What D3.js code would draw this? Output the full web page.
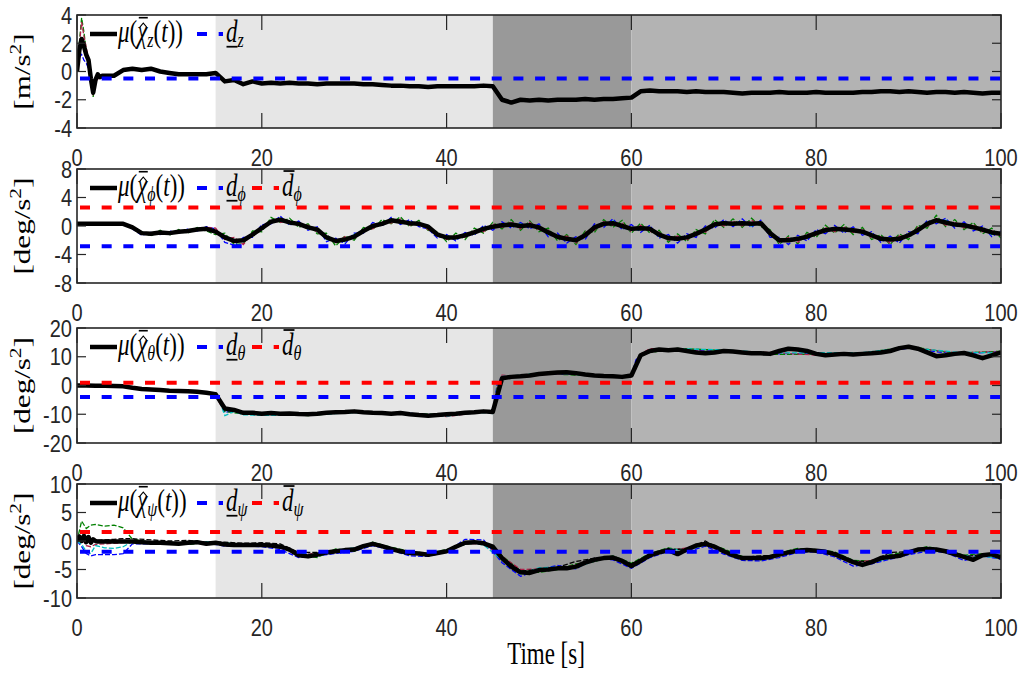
<!DOCTYPE html>
<html>
<head>
<meta charset="utf-8">
<script src="https://cdnjs.cloudflare.com/ajax/libs/d3/7.8.5/d3.min.js"></script>
<style>
    body { margin: 0; background: #fff; }
    .tickText { font-family: "Liberation Sans", Arial, sans-serif; font-size: 20px; fill: #262626; }
    .tex { font-family: "Liberation Serif", "DejaVu Serif", serif; fill: #000; }
</style>
</head>
<body>
<div id="chart"></div>
<script>
// ---------- time grids ----------
var tFine = [0, 0.25, 0.5, 0.75, 1, 1.25, 1.5, 1.75, 2, 2.25, 2.5, 2.75, 3].concat(d3.range(4, 101));
var tSec = d3.range(0, 101);
var tRunZ = [0, 0.25, 0.5, 0.75, 1, 1.25, 1.5, 1.75, 2, 2.5, 3, 4];
var tRunTheta = [0, 5, 10, 14, 15, 15.5, 16, 17, 18, 20, 25, 30, 35, 40, 44, 45, 45.5, 46, 48, 50,
    55, 60, 60.5, 61, 62, 65, 70, 75, 80, 85, 90, 95, 100];
var tRunPsi = [0, 0.5, 1, 1.5, 2, 3, 4, 5, 6].concat(d3.range(8, 101, 2));

// flight phases (s)
var phaseBreaks = [0, 15, 45, 60, 100];
var xTicks = [0, 20, 40, 60, 80, 100];

// ---------- z channel ----------
var yTicksZ = [-4, -2, 0, 2, 4];
var dLowZ = -0.5;
var meanZ = [0, 1.5, 2.3, 1.8, 1.2, 0.8, -0.5, -1.5, -0.6, -0.2, -0.4, -0.3, -0.3,
    -0.3, 0.1, 0.2, 0.1, 0.2, 0.0, -0.1, -0.2, -0.2, -0.2,
    -0.2, -0.1, -0.7, -0.6, -0.9, -0.7, -0.85, -0.8, -0.85, -0.8,
    -0.85, -0.85, -0.9, -0.85, -0.85, -0.85, -0.85, -0.9, -0.9, -0.95,
    -1.0, -1.0, -1.05, -1.05, -1.1, -1.05, -1.05, -1.05, -1.05, -1.05,
    -1.0, -1.05, -2.0, -2.2, -2.0, -2.05, -2.0, -2.05, -2.0, -2.0,
    -2.0, -1.95, -2.0, -1.95, -1.95, -1.9, -1.85, -1.4, -1.35, -1.4,
    -1.4, -1.4, -1.45, -1.4, -1.45, -1.45, -1.45, -1.5, -1.55, -1.5,
    -1.5, -1.5, -1.45, -1.5, -1.5, -1.5, -1.45, -1.5, -1.5, -1.5,
    -1.5, -1.45, -1.45, -1.4, -1.4, -1.45, -1.4, -1.45, -1.5, -1.45,
    -1.45, -1.5, -1.45, -1.5, -1.55, -1.5, -1.5];
var runZBlue = [0, 1.0, 1.2, 0.8, 0.6, 0.2, -0.5, -1.2, -0.5, -0.4, -0.3, -0.3];
var runZGreen = [0, 2.0, 3.8, 2.8, 1.5, 0.5, -1.0, -1.8, -0.4, -0.2, -0.3, -0.3];
var runZRed = [0, 1.8, 3.5, 2.5, 1.7, 0.8, -0.7, -1.7, -0.8, -0.3, -0.3, -0.3];
var runZCyan = [0, 1.3, 2.0, 1.5, 1.0, 0.5, -0.8, -1.4, -0.6, -0.3, -0.3, -0.3];

// ---------- phi channel ----------
var yTicksPhi = [-8, -4, 0, 4, 8];
var dLowPhi = -2.85;
var dHighPhi = 2.6;
var meanPhi = [0.3, 0.3, 0.3, 0.3, 0.3, 0.3, -0.2, -1.0, -1.1, -0.9,
    -1.0, -0.8, -0.7, -0.5, -0.4, -0.8, -1.6, -2.1, -2.0, -1.2,
    -0.3, 0.6, 0.9, 0.5, 0.3, -0.2, -0.5, -1.6, -2.1, -1.9,
    -1.5, -0.7, 0.0, 0.3, 0.8, 0.6, 0.4, 0.3, -0.1, -1.2,
    -1.6, -1.6, -1.3, -0.9, -0.4, -0.1, 0.1, 0.2, 0.0, 0.1,
    -0.2, -0.9, -1.5, -1.8, -2.0, -1.3, -0.2, 0.3, 0.4, 0.0,
    -0.4, -0.3, -0.4, -1.2, -1.7, -1.8, -1.6, -1.1, -0.5, 0.2,
    0.4, 0.3, 0.4, 0.3, 0.4, -1.0, -2.0, -2.0, -1.8, -1.5,
    -1.0, -0.6, -0.4, -0.5, -0.6, -0.8, -1.3, -1.8, -1.9, -1.8,
    -1.3, -0.6, 0.3, 0.8, 0.5, 0.2, 0.1, -0.2, -0.5, -0.9,
    -1.1];
var runPhiBlue = [0.3, 0.3, 0.3, 0.3, 0.3, 0.4, -0.4, -1.3, -0.9, -1.2,
    -0.7, -1.0, -0.4, -0.7, -0.1, -0.4, -2.3, -2.7, -1.6, -1.6,
    0.2, 0.3, 1.4, 0.1, 0.7, -0.6, -0.1, -2.2, -1.7, -2.5,
    -1.0, -1.0, 0.5, 0.0, 1.2, 0.2, 0.9, -0.1, -0.4, -1.7,
    -1.2, -2.1, -0.9, -1.3, 0.1, -0.6, 0.6, -0.3, 0.5, -0.4,
    0.3, -1.5, -1.0, -2.4, -1.5, -1.9, 0.3, -0.2, 1.0, -0.5,
    0.2, -0.9, 0.1, -1.7, -1.2, -2.4, -1.1, -1.6, 0.0, -0.3,
    0.9, -0.1, 1.0, -0.2, 0.8, -1.6, -1.6, -2.6, -1.3, -2.1,
    -0.5, -1.1, 0.1, -1.0, -0.1, -1.3, -0.8, -2.3, -1.4, -2.4,
    -0.8, -1.1, 0.8, 0.3, 1.1, -0.3, 0.6, -0.7, 0.0, -1.5,
    -0.7];
var runPhiGreen = [0.3, 0.3, 0.3, 0.3, 0.3, 0.2, -0.1, -0.8, -1.4, -0.6,
    -1.3, -0.5, -1.0, -0.2, -0.7, -1.2, -1.0, -2.6, -2.5, -0.7,
    -0.8, 1.2, 0.5, 1.1, -0.2, 0.3, -1.1, -1.0, -2.8, -1.4,
    -2.0, -0.2, -0.5, 0.9, 0.3, 1.3, -0.1, 0.8, -0.6, -0.8,
    -2.2, -1.0, -1.9, -0.3, -1.0, 0.5, -0.4, 0.9, -0.6, 0.7,
    -0.8, -0.3, -2.1, -1.2, -2.6, -0.7, -0.9, 0.9, -0.2, 0.8,
    -1.0, 0.4, -1.0, -0.6, -2.3, -1.1, -2.2, -0.5, -1.1, 0.9,
    -0.2, 1.0, -0.2, 1.1, -0.1, -0.5, -2.6, -1.4, -2.5, -0.9,
    -1.6, 0.1, -1.0, 0.2, -1.2, -0.2, -1.9, -1.2, -2.6, -1.1,
    -1.9, 0.1, -0.3, 1.5, -0.1, 0.9, -0.5, 0.5, -1.1, -0.3,
    -1.7];
var runPhiRed = [0.3, 0.3, 0.3, 0.3, 0.3, 0.3, -0.3, -0.9, -1.2, -1.0,
    -0.9, -0.9, -0.6, -0.6, -0.2, -0.3, -1.9, -1.6, -2.6, -1.0,
    -0.5, 0.8, 0.5, 0.7, 0.0, 0.1, -0.9, -1.4, -2.4, -1.5,
    -1.8, -0.4, -0.4, 0.6, 0.4, 1.0, 0.1, 0.5, -0.5, -1.0,
    -1.9, -1.3, -1.6, -0.6, -0.8, 0.3, -0.2, 0.6, -0.4, 0.5,
    -0.6, -0.6, -1.8, -1.4, -2.4, -0.9, -0.6, 0.6, 0.1, 0.4,
    -0.8, 0.1, -0.8, -0.9, -2.0, -1.4, -2.0, -0.8, -0.9, 0.5,
    0.0, 0.7, 0.0, 0.8, 0.1, -0.7, -2.3, -1.6, -2.3, -1.1,
    -1.3, -0.2, -0.8, -0.1, -0.9, -0.4, -1.7, -1.5, -2.4, -1.4,
    -1.6, -0.2, -0.1, 1.1, 0.1, 0.6, -0.3, 0.2, -0.8, -0.6,
    -1.4];
var runPhiCyan = [0.3, 0.3, 0.3, 0.3, 0.3, 0.3, -0.1, -1.1, -1.0, -0.8,
    -1.1, -0.7, -0.8, -0.3, -0.5, -0.9, -1.4, -2.3, -1.8, -1.4,
    -0.1, 0.5, 1.1, 0.3, 0.5, -0.4, -0.3, -1.9, -1.9, -2.2,
    -1.2, -0.6, 0.2, 0.1, 1.0, 0.4, 0.6, 0.1, 0.2, -1.4,
    -1.4, -1.8, -1.1, -1.1, -0.2, -0.3, 0.3, 0.0, 0.3, -0.1,
    0.0, -1.2, -1.3, -2.0, -1.8, -1.5, 0.0, 0.1, 0.7, -0.2,
    -0.6, -0.5, -0.2, -1.5, -1.5, -2.0, -1.4, -1.3, -0.3, 0.0,
    0.6, 0.1, 0.6, 0.0, 0.6, -1.2, -1.8, -2.2, -1.6, -1.7,
    -0.8, -0.8, -0.2, -0.7, -0.4, -1.0, -1.1, -2.0, -1.7, -2.0,
    -1.1, -0.8, 0.5, 0.6, 0.8, 0.0, 0.3, -0.4, -0.3, -1.2,
    -1.0];

// ---------- theta channel ----------
var yTicksTheta = [-20, -10, 0, 10, 20];
var dLowTheta = -4;
var dHighTheta = 1;
var meanTheta = [0.0, 0.0, -0.1, -0.1, -0.2, -0.3, -0.8, -1.2, -1.4, -1.6,
    -1.8, -1.9, -2.0, -2.2, -2.5, -3.0, -8.0, -8.5, -9.5, -9.5,
    -9.8, -9.6, -9.8, -9.7, -9.9, -10.0, -9.8, -9.5, -9.3, -9.2,
    -9.0, -9.3, -9.5, -9.6, -9.8, -9.6, -10.0, -10.3, -10.5, -10.3,
    -10.0, -9.8, -9.5, -9.3, -9.0, -9.2, 2.5, 3.0, 3.2, 3.5,
    4.0, 4.3, 4.5, 4.6, 4.3, 3.8, 3.5, 3.3, 3.2, 3.0,
    3.5, 10.5, 12.0, 12.5, 12.3, 12.5, 12.0, 11.5, 11.2, 11.5,
    12.0, 11.8, 11.5, 11.2, 11.2, 11.0, 12.0, 12.8, 12.5, 12.0,
    11.0, 10.5, 10.8, 11.0, 10.8, 11.0, 11.2, 11.5, 12.0, 13.0,
    13.5, 12.8, 11.5, 10.2, 10.5, 11.0, 11.3, 10.5, 9.5, 10.5,
    11.5];
var runThetaBlue = [0, -0.4, -1.8, -2.6, -3.1, -5.5, -9.4, -8.7, -9.4, -10.0, -10.1, -9.3, -9.5, -10.4, -9.0,
    -9.3, 1, 2.9, 3.3, 4.0, 3.9, 3.1, 9, 10.4, 12.2, 12.4, 11.8, 11.0, 11.2, 10.8, 13.0, 10.9, 11.8];
var runThetaGreen = [0, -0.5, -1.6, -2.3, -3.4, -5, -9.0, -9.5, -9.8, -9.4, -10.5, -9.0, -9.6, -10.2, -8.8,
    -9.5, 0, 2.4, 3.6, 4.2, 3.5, 3.2, 8, 10.2, 11.5, 12.9, 12.2, 10.8, 10.9, 11.2, 13.6, 11.2, 11.9];
var runThetaRed = [0, -0.2, -1.7, -2.4, -3.0, -6.5, -8.5, -8.8, -9.7, -10.2, -9.8, -9.2, -9.9, -10.8, -9.2,
    -8.9, -1, 3.6, 3.0, 3.8, 4.0, 2.8, 6, 11.0, 12.8, 12.3, 11.6, 11.5, 10.6, 10.9, 13.1, 11.5, 11.6];
var runThetaCyan = [0, -0.3, -1.9, -2.5, -3.2, -6, -10.5, -9.0, -10.2, -10.4, -10.3, -9.4, -10.0, -10.6, -9.3,
    -9.8, -2, 3.2, 3.5, 4.4, 3.7, 3.0, 7, 10.8, 12.4, 12.8, 12.4, 11.3, 11.4, 11.4, 13.2, 11.6, 11.3];

// ---------- psi channel ----------
var yTicksPsi = [-10, -5, 0, 5, 10];
var dLowPsi = -1.9;
var dHighPsi = 1.6;
var meanPsi = [0, 0.8, 0.0, 0.9, -0.2, 0.7, -0.3, 0.3, 0.0, -0.1, -0.1, -0.1, -0.1,
    -0.1, -0.1, -0.1, -0.2, -0.3, -0.3, -0.4, -0.5, -0.3, -0.2,
    -0.5, -0.3, -0.6, -0.7, -0.7, -0.7, -0.7, -0.8, -1.0, -1.5,
    -2.5, -2.7, -2.4, -2.0, -1.8, -1.6, -1.5, -0.9, -0.5, -0.9,
    -1.4, -1.8, -2.1, -2.2, -2.4, -2.1, -1.8, -1.0, -0.3, -0.2,
    -0.4, -1.0, -3.0, -4.5, -5.5, -5.6, -5.1, -5.0, -4.8, -4.8,
    -4.5, -3.8, -3.3, -3.0, -2.9, -3.5, -4.4, -3.5, -2.5, -2.0,
    -1.6, -2.3, -1.5, -0.8, -0.5, -1.0, -1.8, -2.5, -3.0, -3.0,
    -3.0, -2.8, -2.4, -2.0, -1.7, -1.6, -1.7, -1.9, -2.3, -3.0,
    -3.7, -4.2, -3.7, -3.0, -2.8, -2.6, -2.0, -1.5, -1.4, -1.5,
    -1.8, -2.3, -2.8, -3.3, -2.5, -2.3, -2.9];
var runPsiBlue = [0, -1.0, -2.2, -2.6, -2.4, -2.4, -2.4, -2.2, -0.5,
    -0.5, -0.6, -0.4, -0.3, -0.9, -0.9, -1.0, -1.5, -2.9, -2.6,
    -2.2, -1.8, -0.8, -1.6, -2.6, -2.7, -1.9, 0.3, 0.2, -3.8,
    -6.2, -5.0, -4.3, -4.9, -3.0, -3.3, -4.8, -2.9, -1.8, -1.9,
    -0.9, -2.3, -3.4, -3.5, -2.9, -2.0, -1.9, -2.8, -4.4, -4.0,
    -3.2, -2.4, -1.8, -2.0, -3.4, -2.6, -3.2];
var runPsiGreen = [0, 3.5, 2.2, 2.8, 2.9, 2.6, 2.8, 2.3, 0.3,
    -0.2, -0.2, -0.6, -0.3, -0.3, -0.6, -0.8, -0.7, -2.4, -2.9,
    -1.4, -1.8, -0.2, -1.1, -1.8, -2.2, -1.5, -0.6, -0.2, -2.6,
    -5.2, -5.5, -5.0, -4.0, -3.6, -2.6, -3.9, -2.2, -1.2, -1.8,
    -0.2, -1.4, -2.7, -3.3, -2.1, -1.3, -1.5, -1.9, -3.4, -3.5,
    -2.4, -1.8, -1.0, -1.6, -2.5, -2.2, -2.5];
var runPsiRed = [0, 0.5, -0.8, -1.0, -0.6, -0.5, -0.4, -0.3, -0.2,
    -0.4, -0.5, -0.2, -0.6, -0.5, -0.8, -0.6, -1.2, -2.3, -2.2,
    -2.0, -1.3, -0.6, -1.3, -2.0, -2.5, -2.0, -0.4, -0.6, -2.7,
    -5.0, -4.9, -4.9, -4.2, -3.1, -3.0, -4.2, -2.7, -1.7, -1.2,
    -0.6, -2.0, -3.2, -2.8, -2.6, -1.5, -1.8, -2.1, -3.8, -3.4,
    -2.6, -2.2, -1.3, -1.6, -3.0, -2.3, -2.7];
var runPsiCyan = [0, -0.6, -1.8, -2.2, -0.8, -1.2, -1.3, -1.0, -0.1,
    -0.2, -0.4, -0.5, -0.1, -0.4, -0.5, -0.9, -0.8, -2.1, -2.5,
    -1.6, -1.2, -0.3, -1.5, -2.3, -2.1, -1.6, -0.1, -0.7, -3.3,
    -5.8, -4.7, -4.6, -4.7, -3.5, -2.7, -4.6, -2.3, -1.4, -1.6,
    -0.7, -1.6, -2.8, -3.1, -2.2, -1.9, -1.5, -2.5, -3.9, -3.8,
    -3.0, -1.9, -1.6, -1.9, -2.6, -2.7, -3.0];
var runPsiBlack = [0, 0.3, 0.2, 0.0, 0.1, 0.2, 0.3, 0.4, 0.4,
    0.2, 0.0, 0.1, -0.2, -0.2, -0.4, -0.3, -0.5, -2.0, -2.0,
    -1.9, -1.4, -0.3, -1.5, -1.8, -2.3, -1.7, -0.5, -0.1, -2.8,
    -5.3, -5.0, -4.6, -3.6, -3.0, -3.2, -4.0, -2.4, -1.5, -1.4,
    0.0, -1.8, -2.9, -2.6, -2.5, -1.8, -1.6, -2.4, -3.5, -3.6,
    -2.0, -1.9, -1.5, -1.7, -2.7, -2.4, -2.8];

// ---------- styles ----------
var SY = 1.35;           // the original figure is stretched vertically
var SY_TICK = 1.22;
var phaseFill = ["#ffffff", "#e6e6e6", "#999999", "#b3b3b3"];
var runColor = { blue: "#0000ff", green: "#008000", red: "#b0204a", cyan: "#00bfbf", black: "#000000" };
var dash = "10,11.67";

var margin = { left: 77, right: 24 };
var svgWidth = 1025, svgHeight = 674;
var plotWidth = svgWidth - margin.left - margin.right;

var panels = [
    { top: 15, height: 113, domain: [-4, 4], ticks: yTicksZ, unit: "m", sub: "z",
      t: tFine, mean: meanZ, runT: tRunZ,
      runs: [["blue", runZBlue], ["green", runZGreen], ["red", runZRed], ["cyan", runZCyan]],
      dLow: dLowZ, dHigh: null },
    { top: 169, height: 114, domain: [-8, 8], ticks: yTicksPhi, unit: "deg", sub: "\u03d5",
      t: tSec, mean: meanPhi, runT: tSec,
      runs: [["blue", runPhiBlue], ["green", runPhiGreen], ["red", runPhiRed], ["cyan", runPhiCyan]],
      dLow: dLowPhi, dHigh: dHighPhi },
    { top: 328, height: 115, domain: [-20, 20], ticks: yTicksTheta, unit: "deg", sub: "\u03b8",
      t: tSec, mean: meanTheta, runT: tRunTheta,
      runs: [["blue", runThetaBlue], ["green", runThetaGreen], ["red", runThetaRed], ["cyan", runThetaCyan]],
      dLow: dLowTheta, dHigh: dHighTheta },
    { top: 484, height: 114, domain: [-10, 10], ticks: yTicksPsi, unit: "deg", sub: "\u03c8",
      t: tFine, mean: meanPsi, runT: tRunPsi,
      runs: [["blue", runPsiBlue], ["green", runPsiGreen], ["red", runPsiRed], ["cyan", runPsiCyan], ["black", runPsiBlack]],
      dLow: dLowPsi, dHigh: dHighPsi }
];

var svg = d3.select("#chart")
    .append("svg")
    .attr("width", svgWidth)
    .attr("height", svgHeight);

var xScale = d3.scaleLinear().domain([0, 100]).range([0, plotWidth]);

// text stretched vertically like the source image
function sText(parent, x, y, str, cls, sy, rotate) {
    return parent.append("text")
        .attr("transform", `translate(${x},${y}) scale(1,${sy})` + (rotate ? " rotate(-90)" : ""))
        .attr("class", cls)
        .text(str);
}

// lay out a small math label piece by piece, returns width
function mathText(g, pieces) {
    var x = 0;
    pieces.forEach(function(p) {
        var size = p.sub ? 16 : 23;
        var t = g.append("text")
            .attr("x", x)
            .attr("y", p.sub ? 4 : 0)
            .attr("class", "tex")
            .style("font-size", size + "px")
            .style("font-style", p.it ? "italic" : "normal")
            .text(p.s);
        var w = t.node().getComputedTextLength();
        var cx = x + w / 2 + 1;
        if (p.hatBar) {
            g.append("path")
                .attr("d", `M${cx - 3.5},-11 L${cx},-14 L${cx + 3.5},-11`)
                .attr("fill", "none").attr("stroke", "#000").attr("stroke-width", 1);
            g.append("line")
                .attr("x1", cx - 4.5).attr("x2", cx + 4.5)
                .attr("y1", -18).attr("y2", -18)
                .attr("stroke", "#000").attr("stroke-width", 1.2);
        }
        if (p.under) {
            g.append("line").attr("x1", x + 0.5).attr("x2", x + w)
                .attr("y1", 3.5).attr("y2", 3.5)
                .attr("stroke", "#000").attr("stroke-width", 1.3);
        }
        if (p.over) {
            g.append("line").attr("x1", x + 1.5).attr("x2", x + w + 1)
                .attr("y1", -18.5).attr("y2", -18.5)
                .attr("stroke", "#000").attr("stroke-width", 1.3);
        }
        x += w + (p.kern || 0);
    });
    return x;
}

panels.forEach(function(p, i) {
    var yScale = d3.scaleLinear().domain(p.domain).range([p.height, 0]);
    var chartGroup = svg.append("g")
        .attr("transform", `translate(${margin.left}, ${p.top})`);

    svg.append("clipPath").attr("id", "clip" + i)
        .append("rect").attr("width", plotWidth).attr("height", p.height);

    // STEP 1: phase shading
    chartGroup.append("g")
        .selectAll("rect")
        .data(d3.range(phaseBreaks.length - 1))
        .enter()
        .append("rect")
        .attr("x", k => xScale(phaseBreaks[k]))
        .attr("width", k => xScale(phaseBreaks[k + 1]) - xScale(phaseBreaks[k]))
        .attr("y", 0)
        .attr("height", p.height)
        .attr("fill", k => phaseFill[k]);

    var plotArea = chartGroup.append("g").attr("clip-path", `url(#clip${i})`);

    // STEP 2: individual runs (thin dashed)
    p.runs.forEach(function(r) {
        var line = d3.line()
            .x((d, k) => xScale(p.runT[k]))
            .y(d => yScale(d));
        plotArea.append("path")
            .datum(r[1])
            .attr("d", line)
            .attr("fill", "none")
            .attr("stroke", runColor[r[0]])
            .attr("stroke-width", 1.3)
            .attr("stroke-dasharray", "5,2");
    });

    // STEP 3: mean estimate
    var meanLine = d3.line()
        .x((d, k) => xScale(p.t[k]))
        .y(d => yScale(d));
    plotArea.append("path")
        .datum(p.mean)
        .attr("d", meanLine)
        .attr("fill", "none")
        .attr("stroke", "#000")
        .attr("stroke-width", 4.5)
        .attr("stroke-linejoin", "round");

    // STEP 4: disturbance bounds
    var bounds = [[p.dLow, "#0000ff"]];
    if (p.dHigh !== null) bounds.push([p.dHigh, "#ff0000"]);
    bounds.forEach(function(b) {
        plotArea.append("line")
            .attr("x1", 0).attr("x2", plotWidth)
            .attr("y1", yScale(b[0])).attr("y2", yScale(b[0]))
            .attr("stroke", b[1])
            .attr("stroke-width", 4)
            .attr("stroke-dasharray", dash)
            .attr("stroke-dashoffset", 18.67);
    });

    // STEP 5: ticks (inside, on all four sides)
    var tickG = chartGroup.append("g").attr("stroke", "#262626").attr("stroke-width", 1.2);
    xTicks.forEach(function(v) {
        var x = xScale(v);
        tickG.append("line").attr("x1", x).attr("x2", x).attr("y1", 0).attr("y2", 15);
        tickG.append("line").attr("x1", x).attr("x2", x).attr("y1", p.height).attr("y2", p.height - 15);
    });
    p.ticks.forEach(function(v) {
        var y = yScale(v);
        tickG.append("line").attr("x1", 0).attr("x2", 9).attr("y1", y).attr("y2", y);
        tickG.append("line").attr("x1", plotWidth).attr("x2", plotWidth - 9).attr("y1", y).attr("y2", y);
    });

    // frame
    chartGroup.append("rect")
        .attr("width", plotWidth)
        .attr("height", p.height)
        .attr("fill", "none")
        .attr("stroke", "#262626")
        .attr("stroke-width", 1.6);

    // STEP 6: tick labels
    p.ticks.forEach(function(v) {
        sText(chartGroup, -5, yScale(v) + 8.5, String(v), "tickText", SY_TICK)
            .attr("text-anchor", "end");
    });
    xTicks.forEach(function(v) {
        sText(chartGroup, xScale(v), p.height + 38, String(v), "tickText", SY_TICK)
            .attr("text-anchor", "middle");
    });

    // y axis label [unit/s^2]
    var yl = sText(svg, 30, p.top + p.height / 2, "", "tex", SY, true)
        .attr("text-anchor", "middle")
        .style("font-size", "23px");
    yl.append("tspan").text("[" + p.unit + "/s");
    yl.append("tspan").attr("dy", -9).style("font-size", "16px").text("2");
    yl.append("tspan").attr("dy", 9).text("]");

    // STEP 7: legend
    var ly = p.top + 19;
    var lg = svg.append("g");
    lg.append("line").attr("x1", 90).attr("x2", 117).attr("y1", ly).attr("y2", ly)
        .attr("stroke", "#000").attr("stroke-width", 4.5);
    var m = lg.append("g").attr("transform", `translate(118,${ly + 8}) scale(1,${SY})`);
    mathText(m, [
        { s: "\u03bc", it: true }, { s: "(" }, { s: "\u03c7", it: true, hatBar: true },
        { s: p.sub, it: true, sub: true }, { s: "(" }, { s: "t", it: true }, { s: "))" }
    ]);
    lg.append("line").attr("x1", 197).attr("x2", 223).attr("y1", ly).attr("y2", ly)
        .attr("stroke", "#0000ff").attr("stroke-width", 4).attr("stroke-dasharray", dash);
    var dl = lg.append("g").attr("transform", `translate(226,${ly + 8}) scale(1,${SY})`);
    mathText(dl, [{ s: "d", it: true, under: true }, { s: p.sub, it: true, sub: true }]);
    if (p.dHigh !== null) {
        lg.append("line").attr("x1", 252).attr("x2", 279).attr("y1", ly).attr("y2", ly)
            .attr("stroke", "#ff0000").attr("stroke-width", 4).attr("stroke-dasharray", dash);
        var dh = lg.append("g").attr("transform", `translate(282,${ly + 8}) scale(1,${SY})`);
        mathText(dh, [{ s: "d", it: true, over: true }, { s: p.sub, it: true, sub: true }]);
    }
});

// x axis title
sText(svg, margin.left + plotWidth / 2 + 7, 664, "Time [s]", "tex", SY)
    .attr("text-anchor", "middle")
    .style("font-size", "23px");
</script>
</body>
</html>
